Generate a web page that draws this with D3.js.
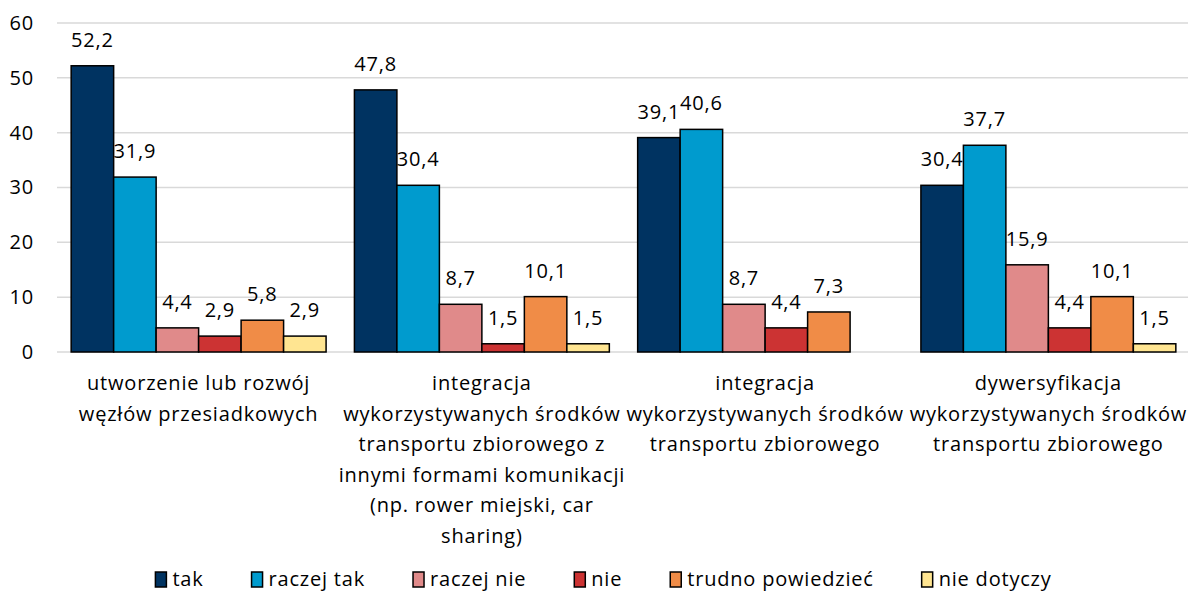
<!DOCTYPE html>
<html>
<head>
<meta charset="utf-8">
<script src="https://cdn.jsdelivr.net/npm/d3@7"></script>
<style>
  html, body { margin: 0; padding: 0; background: #fff; }
  svg { display: block; font-family: "Open Sans", "Noto Sans", sans-serif; }
  svg text { letter-spacing: 0.8px; }
</style>
</head>
<body>
<svg id="chart" width="1188" height="594"></svg>
<script>
// Category labels, one array entry per wrapped line
const categories = [
  ["utworzenie lub rozwój", "węzłów przesiadkowych"],
  ["integracja", "wykorzystywanych środków", "transportu zbiorowego z", "innymi formami komunikacji", "(np. rower miejski, car", "sharing)"],
  ["integracja", "wykorzystywanych środków", "transportu zbiorowego"],
  ["dywersyfikacja", "wykorzystywanych środków", "transportu zbiorowego"]
];
const seriesNames = ["tak", "raczej tak", "raczej nie", "nie", "trudno powiedzieć", "nie dotyczy"];
const seriesColors = ["#003361", "#009BCE", "#E08A8A", "#CC3333", "#F08C47", "#FFE591"];

// Values per series, one entry per category (null = no answer in that group)
const tak             = [52.2, 47.8, 39.1, 30.4];
const raczejTak       = [31.9, 30.4, 40.6, 37.7];
const raczejNie       = [4.4, 8.7, 8.7, 15.9];
const nie             = [2.9, 1.5, 4.4, 4.4];
const trudnoPowiedziec = [5.8, 10.1, 7.3, 10.1];
const nieDotyczy      = [2.9, 1.5, null, 1.5];

const yTicks = [0, 10, 20, 30, 40, 50, 60];

const seriesValues = [tak, raczejTak, raczejNie, nie, trudnoPowiedziec, nieDotyczy];

const FS = 20;
const svg = d3.select("#chart");
const plot = { left: 57, right: 1190, top: 23, bottom: 352 };

const catKeys = categories.map((c, i) => i);
const x0 = d3.scaleBand().domain(catKeys).range([plot.left, plot.right])
  .paddingInner(0.1).paddingOuter(0.05);
const x1 = d3.scaleBand().domain(seriesNames).range([0, x0.bandwidth()]);
const y = d3.scaleLinear().domain([0, 60]).range([plot.bottom, plot.top]);

// Gridlines
svg.append("g")
  .selectAll("line").data(yTicks).join("line")
  .attr("x1", plot.left).attr("x2", 1188)
  .attr("y1", d => y(d)).attr("y2", d => y(d))
  .attr("stroke", "#d9d9d9").attr("stroke-width", 1.5);

// Y axis labels
const yAxis = svg.append("g")
  .attr("transform", `translate(${plot.left},0)`)
  .call(d3.axisLeft(y).tickValues(yTicks).tickSize(0).tickPadding(23).tickFormat(d3.format("d")));
yAxis.select(".domain").remove();
yAxis.selectAll("text").attr("font-size", FS).attr("fill", "#000")
  .attr("font-family", "'Open Sans', sans-serif");

// Bars
const groups = svg.append("g").selectAll("g").data(catKeys).join("g")
  .attr("transform", d => `translate(${x0(d)},0)`);

const barData = ci => seriesNames.map((s, si) => ({ s, si, v: seriesValues[si][ci] }))
  .filter(d => d.v != null);

groups.selectAll("rect").data(barData).join("rect")
  .attr("x", d => x1(d.s))
  .attr("y", d => y(d.v))
  .attr("width", x1.bandwidth())
  .attr("height", d => y(0) - y(d.v))
  .attr("fill", d => seriesColors[d.si])
  .attr("stroke", "#000").attr("stroke-width", 1.5);

groups.selectAll("text.val").data(barData).join("text")
  .attr("class", "val")
  .attr("x", d => x1(d.s) + x1.bandwidth() / 2)
  .attr("y", d => y(d.v) - 19)
  .attr("text-anchor", "middle")
  .attr("font-size", FS)
  .text(d => d3.format(".1f")(d.v).replace(".", ","));

// Category labels
groups.append("text")
  .attr("text-anchor", "middle")
  .attr("font-size", FS)
  .selectAll("tspan").data(d => categories[d]).join("tspan")
  .attr("x", x0.bandwidth() / 2)
  .attr("y", (d, i) => 390 + i * 30.5)
  .text(d => d);

// Legend
const legend = svg.append("g");
let lx = 0;
const items = legend.selectAll("g").data(seriesNames).join("g");
items.append("rect")
  .attr("x", 0).attr("y", -7).attr("width", 11).attr("height", 15)
  .attr("fill", (d, i) => seriesColors[i]).attr("stroke", "#000").attr("stroke-width", 1.5);
items.append("text")
  .attr("x", 17).attr("y", 7)
  .attr("font-size", FS)
  .text(d => d);
items.each(function() {
  const w = this.querySelector("text").getComputedTextLength() + 17;
  d3.select(this).attr("transform", `translate(${lx},0)`);
  lx += w + 48;
});
const totalW = lx - 48;
legend.attr("transform", `translate(${603.5 - totalW / 2},579)`);
</script>
</body>
</html>
